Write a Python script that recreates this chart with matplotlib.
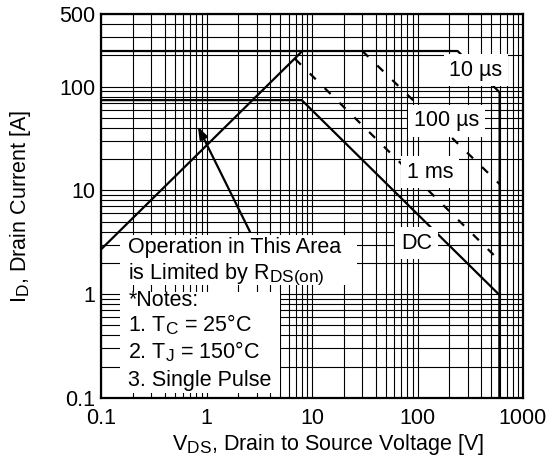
import matplotlib
matplotlib.use("Agg")
import matplotlib.pyplot as plt
import matplotlib._mathtext as _mt
from matplotlib.patches import Rectangle
from matplotlib.ticker import LogLocator, NullFormatter

_mt.SHRINK_FACTOR = 0.8

# ---------------- data ----------------
x_ticks = [0.1, 1, 10, 100, 1000]
x_tick_labels = ["0.1", "1", "10", "100", "1000"]
y_ticks = [0.1, 1, 10, 100, 500]
y_tick_labels = ["0.1", "1", "10", "100", "500"]

rds_v = [0.1, 8.1]
rds_i = [2.7, 220]

us10_v = [0.1, 240, 600, 600]
us10_i = [220, 220, 88, 0.1]

dc_v = [0.1, 8.0, 600, 600]
dc_i = [74, 74, 0.98, 0.1]

us100_v = [30, 600]
us100_i = [220, 11.5]

ms1_v = [6.9, 600]
ms1_i = [185, 2.1]

# ---------------- style ----------------
plt.rcParams['font.family'] = ['Liberation Sans', 'DejaVu Sans']
plt.rcParams['mathtext.fontset'] = 'custom'
plt.rcParams['mathtext.rm'] = 'Liberation Sans'
plt.rcParams['mathtext.it'] = 'Liberation Sans:italic'
plt.rcParams['mathtext.bf'] = 'Liberation Sans:bold'
plt.rcParams['lines.scale_dashes'] = False

FS = 15.5

fig = plt.figure(figsize=(5.47, 4.68), dpi=100)
ax = fig.add_axes([101/547, 1-398/468, 422/547, 384/468])
ax.set_xscale('log')
ax.set_yscale('log')
ax.set_xlim(0.1, 1000)
ax.set_ylim(0.1, 500)

ax.set_xticks(x_ticks)
ax.set_xticklabels(x_tick_labels, fontsize=FS)
ax.set_yticks(y_ticks)
ax.set_yticklabels(y_tick_labels, fontsize=FS)
ax.xaxis.set_minor_locator(LogLocator(base=10, subs=range(2, 10), numticks=20))
ax.yaxis.set_minor_locator(LogLocator(base=10, subs=range(2, 10), numticks=20))
ax.xaxis.set_minor_formatter(NullFormatter())
ax.yaxis.set_minor_formatter(NullFormatter())
ax.tick_params(which='both', length=0)
ax.tick_params(axis='x', pad=7)
ax.tick_params(axis='y', pad=4)
ax.grid(which='both', color='black', linewidth=0.8)
ax.set_axisbelow(True)
for s in ax.spines.values():
    s.set_linewidth(1.6)
    s.set_zorder(5)

LW = 1.6
ax.plot(rds_v, rds_i, color='black', lw=LW, zorder=3)
ax.plot(us10_v, us10_i, color='black', lw=LW, zorder=3)
ax.plot(dc_v, dc_i, color='black', lw=LW, zorder=3)
ax.plot(us100_v, us100_i, color='black', lw=LW, dashes=(6, 9), zorder=3)
ax.plot(ms1_v, ms1_i, color='black', lw=LW, dashes=(6, 9), zorder=3)

box = dict(facecolor='white', edgecolor='none', pad=4)
ax.text(358, 144, "10 µs", fontsize=FS, ha='center', va='center', bbox=box, zorder=4)
ax.text(188, 46.6, "100 µs", fontsize=FS, ha='center', va='center', bbox=box, zorder=4)
ax.text(131.6, 15.0, "1 ms", fontsize=FS, ha='center', va='center', bbox=box, zorder=4)
ax.text(98, 3.1, "DC", fontsize=FS, ha='center', va='center', bbox=box, zorder=4)

# white areas behind the note block
ax.add_patch(Rectangle((0.045, 0.2943), 0.5616, 0.130, transform=ax.transAxes,
                       facecolor='white', edgecolor='none', zorder=3.5))
ax.add_patch(Rectangle((0.045, 0.013), 0.379, 0.263, transform=ax.transAxes,
                       facecolor='white', edgecolor='none', zorder=3.5))

lines = [
    "Operation in This Area",
    r"is Limited by R$_{\mathrm{DS(on)}}$",
    "*Notes:",
    r"1. T$_{\mathrm{C}}$ = 25°C",
    r"2. T$_{\mathrm{J}}$ = 150°C",
    "3. Single Pulse",
]
baselines = [253.3, 278.3, 306, 331.7, 358.3, 385.7]
for t, b in zip(lines, baselines):
    ax.text((128.3-101)/422, (398-b)/384, t, fontsize=FS, ha='left', va='baseline',
            transform=ax.transAxes, zorder=4)

ax.annotate("", xy=(0.83, 41), xytext=(2.58, 4.0),
            arrowprops=dict(arrowstyle='-|>,head_length=0.7,head_width=0.25',
                            color='black', lw=LW, shrinkA=0, shrinkB=0),
            zorder=4)

ax.set_xlabel(r"V$_{\mathrm{DS}}$, Drain to Source Voltage [V]", fontsize=FS)
ax.set_ylabel(r"I$_{\mathrm{D}}$, Drain Current [A]", fontsize=FS)
ax.xaxis.set_label_coords(0.538, -0.088)
ax.yaxis.set_label_coords(-0.16, 0.5)

fig.savefig("out.png", dpi=100)
